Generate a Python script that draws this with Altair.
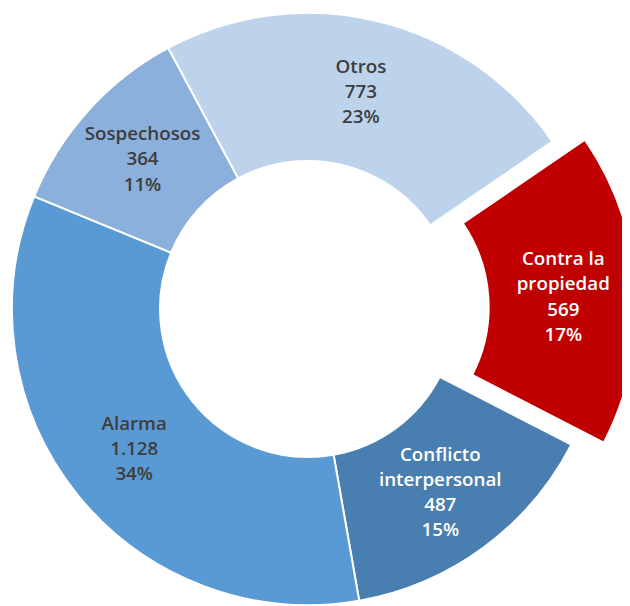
import math
import altair as alt
import pandas as pd

# ---- data ----
categories = ["Otros", "Contra la propiedad", "Conflicto interpersonal", "Alarma", "Sospechosos"]
label_names = ["Otros", "Contra la\npropiedad", "Conflicto\ninterpersonal", "Alarma", "Sospechosos"]
values = [773, 569, 487, 1128, 364]
value_labels = ["773", "569", "487", "1.128", "364"]
pct_labels = ["23%", "17%", "15%", "34%", "11%"]
colors = ["#bdd3ec", "#c00000", "#497eb0", "#5a9ad4", "#8cb0dc"]
text_colors = ["#3d3d3d", "#ffffff", "#ffffff", "#3d3d3d", "#3d3d3d"]
exploded = [False, True, False, False, False]

# ---- layout ----
CX, CY = 304, 301
R_OUT, R_IN, R_TXT = 300, 150, 226
START = math.radians(331.8)
EXPLODE = 33
LINE_H = 25.5

total = sum(values)
labels = [f"{n}\n{v}\n{p}" for n, v, p in zip(label_names, value_labels, pct_labels)]
df = pd.DataFrame({
    "cat": categories,
    "value": values,
    "order": list(range(len(categories))),
    "label": labels,
    "nlines": [s.count("\n") + 1 for s in labels],
    "tcolor": text_colors,
    "exploded": exploded,
})

# offset of the exploded slice along its mid angle
idx = exploded.index(True)
mid_val = sum(values[:idx]) + values[idx] / 2
mid_ang = START + 2 * math.pi * mid_val / total
DX = EXPLODE * math.sin(mid_ang)
DY = -EXPLODE * math.cos(mid_ang)

theta_scale = alt.Scale(domain=[0, total], range=[START, START + 2 * math.pi])
color_scale = alt.Scale(domain=categories, range=colors)

base = alt.Chart(df).transform_stack(
    stack="value", groupby=[], as_=["v0", "v1"], sort=[alt.SortField("order", order="ascending")]
).transform_calculate(mid="(datum.v0 + datum.v1) / 2")


def arcs(filt, dx=0, dy=0):
    return base.transform_filter(filt).mark_arc(
        radius=R_OUT, radius2=R_IN, stroke="white", strokeWidth=2, xOffset=dx, yOffset=dy
    ).encode(
        theta=alt.Theta("v0:Q", scale=theta_scale),
        theta2="v1:Q",
        color=alt.Color("cat:N", scale=color_scale, legend=None),
        x=alt.value(CX), y=alt.value(CY),
    )


def texts(filt, nl, dx=0, dy=0):
    return base.transform_filter(filt).transform_filter(f"datum.nlines == {nl}").mark_text(
        radius=R_TXT, font="Open Sans", fontWeight=600, fontSize=19, lineHeight=LINE_H,
        lineBreak="\n", align="center", baseline="middle",
        xOffset=dx, yOffset=dy, dy=-(nl - 1) * LINE_H / 2 + (nl - 3) * 4,
    ).encode(
        theta=alt.Theta("mid:Q", scale=theta_scale),
        text="label:N",
        color=alt.Color("tcolor:N", scale=None),
        x=alt.value(CX), y=alt.value(CY),
    )


layers = [arcs("!datum.exploded"), arcs("datum.exploded", DX, DY)]
for nl in sorted(set(df["nlines"])):
    layers.append(texts("!datum.exploded", nl))
    layers.append(texts("datum.exploded", nl, DX, DY))

chart = alt.layer(*layers).properties(
    width=622, height=598, padding=0, autosize=alt.AutoSizeParams(type="none")
).configure_view(stroke=None)

chart.save("out.html", embed_options={"renderer": "svg", "actions": False})
